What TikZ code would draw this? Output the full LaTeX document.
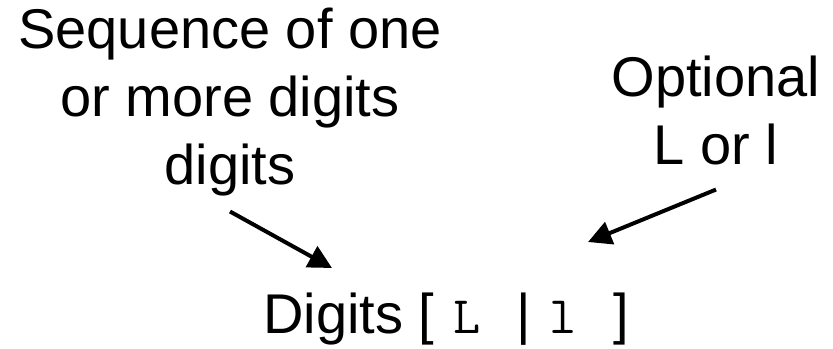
\documentclass[tikz,border=0pt]{standalone}
\usepackage{fontspec}
\setmainfont{Liberation Sans}
\usetikzlibrary{arrows.meta}
% one fixed-width typewriter cell, as wide as a Courier glyph
\newcommand{\codecell}[1]{{\fontsize{45}{58}\ttfamily\makebox[1.0cm]{#1}}}

\begin{document}
\begin{tikzpicture}[
      note/.style={font=\fontsize{47.8}{58}\selectfont, align=center, inner sep=0pt},
      ptr/.style={-{Triangle[length=20pt, width=20pt]}, line width=3.4pt},
    ]
    \useasboundingbox (0,0) rectangle (24.99,10.44);

    \node[note, anchor=north] (seq) at (6.9,10.2)
      {Sequence of one\\or more digits\\digits};
    \node[note, anchor=north] (opt) at (21.48,8.76)
      {Optional\\L or l};
    \node[note, anchor=base west] (syntax) at (7.89,0.45)
      {Digits [ \codecell{L}\codecell{}| \codecell{l}\codecell{}]};

    \coordinate (seqtip) at (9.96,2.40);
    \coordinate (opttip) at (17.64,3.18);

    \draw[ptr] ([yshift=-0.45cm]seq.south) -- (seqtip);
    \draw[ptr] ([yshift=-0.72cm]opt.south) -- (opttip);
  \end{tikzpicture}
\end{document}
